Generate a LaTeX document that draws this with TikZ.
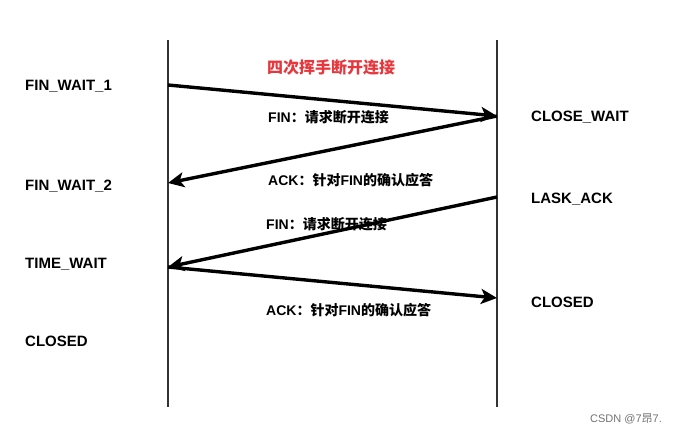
\documentclass[tikz,border=0pt]{standalone}
\usepackage{fontspec}
\setmainfont{Liberation Sans}
\newfontfamily\cjk{Noto Sans CJK SC}
\usetikzlibrary{arrows.meta}
\definecolor{titlered}{HTML}{E8363D}
\tikzset{
	state/.style={anchor=west,inner sep=0pt,font=\fontsize{15}{17}\selectfont\bfseries},
	msg/.style={anchor=west,inner sep=0pt,font=\fontsize{14}{16}\selectfont\bfseries},
	lifeline/.style={line width=1.3pt,black!80},
	signal/.style={->,line width=3.4pt},
}
\begin{document}
\begin{tikzpicture}[>={Stealth[length=16pt,width=15pt,inset=4pt]},x=1pt,y=-1pt]
	\useasboundingbox[fill=white] (0,0) rectangle (678,436);
	% lifelines
	\coordinate (ctop) at (168,40);
	\coordinate (cbot) at (168,407);
	\coordinate (stop) at (497,40);
	\coordinate (sbot) at (497,407);
	\draw[lifeline] (ctop) -- (cbot);
	\draw[lifeline] (stop) -- (sbot);
	% points on the lifelines
	\coordinate (c1) at (168,85);
	\coordinate (s1) at (497,116);
	\coordinate (c2) at (168,183);
	\coordinate (s2) at (497,197);
	\coordinate (c3) at (168,267);
	\coordinate (s3) at (497,298);
	% states
	\node[state] (fw1) at (25,86) {FIN\_WAIT\_1};
	\node[state] (fw2) at (25,186) {FIN\_WAIT\_2};
	\node[state] (tw) at (25,264) {TIME\_WAIT};
	\node[state] (cc) at (25,341) {CLOSED};
	\node[state] (cw) at (531,117) {CLOSE\_WAIT};
	\node[state] (la) at (531,199) {LASK\_ACK};
	\node[state] (sc) at (531,302) {CLOSED};
	% title
	\node[font=\fontsize{16}{18}\selectfont\cjk\bfseries,text=titlered,inner sep=0pt] (title) at (331,67) {四次挥手断开连接};
	% signals
	\draw[signal] (c1) -- (s1);
	\draw[signal] (s1) -- (c2);
	\draw[signal] (s2) -- (c3);
	\draw[signal] (c3) -- (s3);
	\node[msg] (m1) at (268,117) {FIN{\cjk ：请求断开连接}};
	\node[msg] (m2) at (268,180) {ACK{\cjk ：针对}FIN{\cjk 的确认应答}};
	\node[msg] (m3) at (266,224) {FIN{\cjk ：请求断开连接}};
	\node[msg] (m4) at (266,310) {ACK{\cjk ：针对}FIN{\cjk 的确认应答}};
	% watermark
	\node[anchor=west,inner sep=0pt,text=black!55,font=\fontsize{11}{12}\selectfont] (wm) at (590,419) {CSDN @7{\cjk 昂}7.};
\end{tikzpicture}
\end{document}
